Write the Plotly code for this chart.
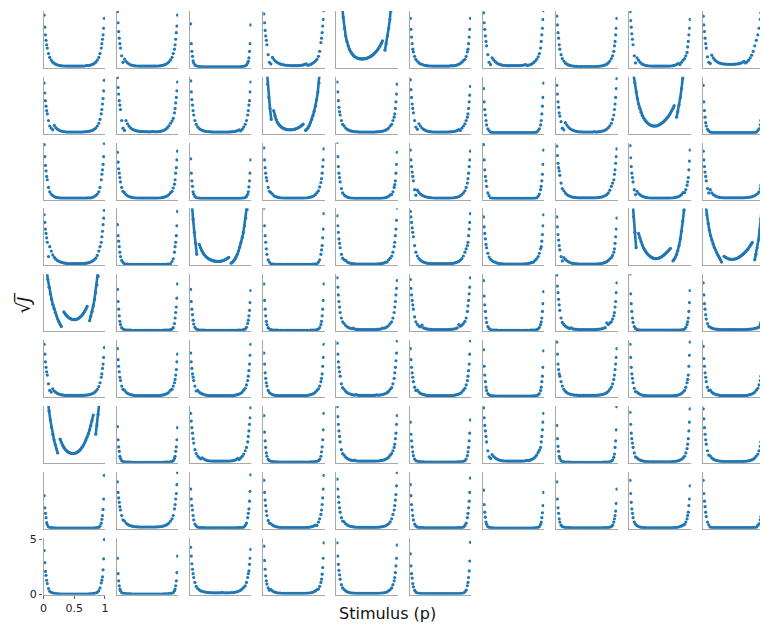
import plotly.graph_objects as go

# Stimulus grid shared by the ordinary panels
P = [0.01, 0.02, 0.03, 0.04, 0.05, 0.06, 0.08, 0.10,
     0.125, 0.15, 0.175, 0.20, 0.225, 0.25, 0.275, 0.30, 0.325, 0.35, 0.375,
     0.40, 0.425, 0.45, 0.475, 0.50, 0.525, 0.55, 0.575, 0.60, 0.625, 0.65,
     0.675, 0.70, 0.725, 0.75, 0.775, 0.80, 0.825, 0.85, 0.875,
     0.90, 0.92, 0.94, 0.95, 0.96, 0.97, 0.98, 0.99]

# Finer grid for the panels whose curve splits into separate branches
P_U = [0.01, 0.03, 0.05, 0.07, 0.09, 0.11, 0.13, 0.15, 0.17, 0.19,
       0.21, 0.23, 0.25, 0.27, 0.29, 0.31, 0.33, 0.35, 0.37, 0.39,
       0.41, 0.43, 0.45, 0.47, 0.49, 0.51, 0.53, 0.55, 0.57, 0.59,
       0.61, 0.63, 0.65, 0.67, 0.69, 0.71, 0.73, 0.75, 0.77, 0.79,
       0.81, 0.83, 0.85, 0.87, 0.89, 0.91, 0.93, 0.95, 0.97, 0.99]

# Flat middle stretches (p = 0.125 ... 0.875) shared by similar-looking panels
MID_G15 = [.70, .52, .40, .32, .27, .23, .20, .18, .17, .16,
           .15, .15, .15, .15, .15, .15, .15, .15, .15, .15, .15,
           .16, .17, .18, .20, .23, .27, .32, .40, .52, .70]
MID_G12 = [.62, .45, .34, .27, .22, .19, .16, .14, .13, .12,
           .12, .12, .12, .12, .12, .12, .12, .12, .12, .12, .12,
           .12, .13, .14, .16, .19, .22, .27, .34, .45, .62]
MID_G10 = [.45, .33, .25, .20, .16, .13, .12, .11, .10, .10,
           .10, .10, .10, .10, .10, .10, .10, .10, .10, .10, .10,
           .10, .10, .11, .12, .13, .16, .20, .25, .33, .45]
MID_S10 = [.14, .12, .11, .10, .10, .10, .10, .10, .10, .10,
           .10, .10, .10, .10, .10, .10, .10, .10, .10, .10, .10,
           .10, .10, .10, .10, .10, .10, .10, .11, .12, .14]
MID_S08 = [.14, .11, .10, .09, .09, .08, .08, .08, .08, .08,
           .08, .08, .08, .08, .08, .08, .08, .08, .08, .08, .08,
           .08, .08, .08, .08, .08, .09, .09, .10, .11, .14]
MID_S05 = [.10, .08, .07, .06, .06, .05, .05, .05, .05, .05,
           .05, .05, .05, .05, .05, .05, .05, .05, .05, .05, .05,
           .05, .05, .05, .05, .05, .06, .06, .07, .08, .10]

# ---- row 1 ----
SQJ_1_1 = [4.8, 3.7, 3.0, 2.5, 2.1, 1.8, 1.3, .95] + [.70, .52, .40, .32, .27, .23, .20, .18, .17, .16, .15, .15, .15, .15, .15, .15, .15, .15, .15, .15, .15, .16, .17, .22, .20, .23, .27, .32, .40, .52, .70] + [.95, 1.3, 1.8, 2.2, 2.6, 3.0, 3.6, 4.5]
SQJ_1_2 = [5.1, 4.1, 3.3, 2.7, 2.2, 1.8, 1.1, .5] + [.8, .6, .45, .35, .28, .23, .2, .18, .17, .16, .15, .15, .15, .15, .15, .15, .15, .15, .15, .15, .15, .16, .17, .18, .2, .23, .27, .33, .42, .55, .72] + [.95, 1.3, 1.7, 2.1, 2.6, 3.2, 3.8, 4.8]
SQJ_1_3 = [4.0, 2.2, 1.5, 1.05, .63, .44, .27, .19] + MID_S10 + [.19, .27, .44, .6, .9, 1.5, 2.2, 3.9]
SQJ_1_4 = [4.9, 4.1, 3.4, 2.9, 2.5, 2.1, 1.2, .5] + [.35, .95, .75, .6, .5, .42, .36, .32, .28, .26, .24, .22, .21, .2, .2, .2, .2, .2, .21, .22, .24, .27, .32, .36, .24, .27, .32, .4, .5, .62, .78] + [1.05, 1.5, 2.3, 2.7, 3.2, 3.8, 4.4, 5.2]
SQJ_1_5 = [12, 10, 8, 6.8, 5.8, 4.6, 3.6, 2.9, 2.4, 2.0, 1.7, 1.48, 1.3, 1.16, 1.05, .97, .91, .87, .84, .82, .81, .81, .82, .84, .87, .91, .96, 1.02, 1.09, 1.17, 1.27, 1.38, 1.5, 1.64, 1.8, 1.98, 2.2, 2.45, None, 1.6, 2.2, 2.9, 3.6, 4.4, 5.2, 6.2, 7.5, 9, 11, 13]
SQJ_1_6 = [4.5, 3.5, 2.8, 2.2, 1.7, 1.45, 1.05, .78] + [.6, .45, .36, .33, .26, .22, .2, .18, .17, .16, .15, .15, .15, .15, .15, .15, .15, .15, .15, .15, .15, .16, .2, .18, .2, .23, .27, .32, .40, .52, .66] + [.78, 1.05, 1.45, 1.7, 2.2, 2.8, 3.5, 4.5]
SQJ_1_7 = [5.0, 4.1, 3.5, 2.9, 2.4, 2.0, 1.2, .5] + [.3, .9, .72, .56, .45, .37, .31, .27, .24, .22, .21, .2, .2, .2, .2, .2, .2, .2, .2, .21, .22, .24, .27, .3, .22, .25, .3, .37, .47, .6, .78] + [1.0, 1.3, 1.8, 2.4, 3.0, 3.6, 4.4, 5.2]
SQJ_1_8 = [4.7, 3.9, 3.2, 2.7, 2.1, 1.7, 1.2, .85] + MID_G12 + [.85, 1.1, 1.5, 2.0, 2.4, 3.0, 3.6, 4.5]
SQJ_1_9 = [5.1, 4.3, 3.7, 3.1, 2.6, 2.1, 1.1, .45] + [.9, .7, .5, .38, .3, .25, .21, .19, .17, .16, .15, .15, .15, .15, .15, .15, .15, .15, .15, .15, .15, .16, .17, .19, .22, .26, .32, .4, .3, .5, .7] + [.85, 1.1, 1.4, 1.9, 2.4, 3.0, 3.6, 4.4]
SQJ_1_10 = [4.7, 3.9, 3.3, 2.7, 2.2, 1.8, 1.0, .5] + [.4, 1.15, .9, .72, .6, .5, .44, .4, .37, .35, .34, .33, .32, .32, .32, .33, .34, .35, .37, .4, .44, .5, .6, .45, .55, .7, .9, 1.15, 1.5, 2.0, 2.5] + [3.0, 3.6, 4.4, 5.0, 5.6, 6.2, 6.8, 7.5]

# ---- row 2 ----
SQJ_2_1 = [4.6, 3.7, 3.0, 2.5, 2.1, 1.8, 1.2, .7] + [.5, .35, .75, .55, .42, .33, .27, .22, .19, .17, .15, .15, .15, .15, .15, .15, .15, .15, .15, .15, .15, .16, .17, .18, .2, .23, .27, .32, .4, .52, .7] + [.95, 1.3, 1.8, 2.2, 2.7, 3.2, 3.9, 4.85]
SQJ_2_2 = [5.1, 4.2, 3.6, 3.0, 2.6, 2.2, 1.2, .5] + [.3, 1.2, .9, .68, .52, .42, .35, .3, .26, .23, .21, .2, .19, .18, .18, .17, .17, .17, .18, .2, .17, .17, .18, .2, .23, .27, .33, .42, .55, .72, .95] + [1.15, 1.4, 1.9, 2.3, 2.8, 3.3, 3.9, 4.7]
SQJ_2_3 = [4.8, 3.8, 3.1, 2.6, 2.1, 1.7, 1.2, .85] + [.62, .47, .37, .3, .25, .22, .2, .18, .17, .16, .15, .15, .15, .15, .15, .15, .15, .15, .15, .15, .15, .16, .17, .18, .2, .23, .28, .35, .25, .4, .6] + [.85, 1.2, 1.7, 2.1, 2.6, 3.0, 3.8, 4.7]
SQJ_2_4 = [9, 7.5, 6, 4.5, 3.3, 2.3, 1.3, None, 2.1, 1.6, 1.28, 1.03, .86, .73, .62, .54, .48, .43, .4, .37, .36, .35, .35, .36, .38, .4, .44, .48, .54, .6, .68, .77, .87, None, .3, .4, .55, .75, 1.0, 1.3, 1.65, 2.05, 2.5, 3.1, 3.8, 4.6, 5.5, 6.6, 8, 10]
SQJ_2_5 = [4.7, 3.8, 3.0, 2.4, 2.0, 1.7, 1.2, .85] + MID_G15 + [.85, 1.2, 1.5, 1.8, 2.3, 2.9, 3.6, 4.5]
SQJ_2_6 = [4.9, 4.0, 3.3, 2.7, 2.3, 1.9, 1.2, .6] + [.4, .9, .7, .52, .4, .32, .26, .22, .19, .17, .15, .15, .15, .15, .15, .15, .15, .15, .15, .15, .15, .16, .17, .18, .2, .24, .3, .38, .28, .5, .7] + [.9, 1.2, 1.5, 1.8, 2.3, 2.9, 3.5, 4.3]
SQJ_2_7 = [4.1, 2.9, 2.2, 1.7, 1.2, .8, .45, .28] + MID_S10 + [.28, .45, .8, 1.2, 1.8, 2.5, 3.3, 4.6]
SQJ_2_8 = [4.4, 3.6, 2.9, 2.4, 1.9, 1.6, 1.1, .5] + [.35, 1.0, .78, .6, .47, .38, .31, .26, .22, .19, .17, .16, .15, .15, .15, .15, .15, .15, .15, .15, .18, .15, .16, .18, .2, .23, .27, .33, .42, .55, .72] + [.95, 1.3, 1.7, 2.2, 2.7, 3.3, 4.1, 5.0]
SQJ_2_9 = [9, 7.5, 6.2, 5.3, 4.6, 3.8, 3.2, 2.7, 2.3, 1.95, 1.67, 1.45, 1.27, 1.12, 1.0, .9, .82, .76, .72, .7, .69, .7, .72, .76, .82, .89, .97, 1.06, 1.16, 1.27, 1.4, 1.54, 1.7, 1.88, 2.08, 2.3, 2.55, None, 1.5, 2.0, 2.6, 3.3, 4.1, 5.0, 6.0, 7, 8, 9, 10, 11]
SQJ_2_10 = [4.4, 2.9, 2.1, 1.5, 1.0, .7, .4, .25] + MID_S10 + [.3, .45, .8, 1.2, 1.8, 2.5, 3.3, 4.4]

# ---- row 3 ----
SQJ_3_1 = [5.0, 3.9, 3.1, 2.6, 2.1, 1.8, 1.1, .7] + [.5, .36, .27, .2, .17, .15, .13, .12, .12, .12, .12, .12, .12, .12, .12, .12, .12, .12, .12, .12, .12, .12, .12, .12, .15, .13, .15, .2, .27, .36, .5] + [.7, 1.1, 1.8, 2.3, 2.7, 3.2, 3.9, 5.1]
SQJ_3_2 = [4.3, 3.4, 2.8, 2.4, 2.0, 1.6, 1.1, .75] + MID_G12 + [.75, 1.05, 1.4, 1.8, 2.4, 2.9, 3.6, 4.4]
SQJ_3_3 = [3.7, 2.4, 1.7, 1.2, .7, .48, .28, .18] + MID_S10 + [.18, .28, .48, .7, 1.15, 1.7, 2.4, 3.6]
SQJ_3_4 = [4.7, 3.6, 2.9, 2.4, 2.0, 1.7, 1.1, .75] + [.62, .5, .34, .27, .22, .19, .16, .14, .13, .12, .12, .12, .12, .12, .12, .12, .12, .12, .12, .12, .12, .12, .13, .14, .16, .19, .22, .27, .34, .45, .62] + [.8, 1.15, 1.55, 1.9, 2.4, 3.0, 3.6, 4.6]
SQJ_3_5 = [5.2, 3.9, 3.0, 2.4, 2.0, 1.6, 1.0, .6] + [.42, .3, .22, .17, .14, .12, .11, .1, .1, .1, .1, .1, .1, .1, .1, .1, .1, .1, .1, .1, .1, .1, .1, .1, .11, .12, .14, .17, .22, .3, .42] + [.45, .7, 1.1, 1.35, 1.7, 2.4, 3.2, 4.3]
SQJ_3_6 = [4.5, 3.6, 3.0, 2.5, 2.1, 1.7, .9, .4] + [.85, .65, .5, .4, .32, .27, .23, .2, .18, .16, .14, .13, .12, .12, .12, .12, .12, .12, .12, .12, .12, .12, .13, .14, .16, .19, .22, .27, .34, .45, .6] + [.8, 1.1, 1.5, 1.9, 2.4, 3.0, 3.6, 4.4]
SQJ_3_7 = [5.0, 3.6, 2.7, 2.1, 1.7, 1.2, .6, .35] + MID_S10 + [.3, .5, .9, 1.2, 1.7, 2.3, 3.2, 4.5]
SQJ_3_8 = [4.85, 4.0, 3.3, 2.9, 2.6, 2.2, 1.5, 1.0] + [.8, .6, .45, .36, .3, .25, .21, .19, .17, .16, .15, .15, .15, .15, .15, .15, .15, .15, .15, .15, .15, .16, .17, .19, .21, .25, .3, .36, .45, .6, .85] + [1.2, 1.5, 1.8, 2.3, 2.7, 3.3, 3.9, 4.6]
SQJ_3_9 = [4.9, 3.8, 3.0, 2.4, 2.0, 1.6, .9, .45] + [.75, .55, .42, .33, .27, .22, .19, .16, .14, .13, .12, .12, .12, .12, .12, .12, .12, .12, .12, .12, .12, .12, .13, .14, .16, .19, .22, .27, .34, .45, .62] + [.62, .9, 1.3, 1.6, 2.0, 2.7, 3.5, 4.5]
SQJ_3_10 = [4.4, 3.6, 3.0, 2.5, 2.1, 1.7, 1.0, .6] + [.9, .6, .45, .35, .28, .23, .2, .18, .16, .15, .15, .15, .15, .15, .15, .15, .15, .15, .15, .15, .15, .15, .16, .17, .18, .2, .22, .25, .3, .36, .45] + [.55, .7, 1.0, 1.3, 1.7, 2.2, 3.0, 4.2]

# ---- row 4 ----
SQJ_4_1 = [4.6, 3.9, 3.3, 2.9, 2.5, 2.1, .8, 1.7] + [1.3, .95, .72, .56, .45, .37, .31, .27, .23, .2, .18, .17, .16, .16, .15, .15, .15, .15, .15, .16, .17, .17, .18, .2, .23, .27, .33, .4, .5, .65, .9] + [1.3, 1.7, 2.1, 2.6, 3.1, 3.7, 4.3, 5.0]
SQJ_4_2 = [3.7, 2.7, 2.2, 1.7, 1.2, .8, .45, .28] + MID_S10 + [.35, .6, 1.2, 1.7, 2.1, 2.7, 3.6, 4.9]
SQJ_4_3 = [7, 5.3, 4.2, 3.0, 2.0, 1.0, None, 1.9, 1.6, 1.35, 1.15, .98, .85, .74, .65, .58, .52, .47, .43, .4, .38, .37, .36, .36, .37, .39, .42, .46, .51, .57, .64, .72, None, .2, .28, .4, .55, .75, 1.0, 1.3, 1.65, 2.05, 2.5, 3.0, 3.6, 4.3, 5.1, 6.0, 7, 8]
SQJ_4_4 = [5.2, 3.6, 2.7, 2.1, 1.5, 1.0, .5, .3] + MID_S10 + [.3, .5, 1.0, 1.4, 1.8, 2.5, 3.3, 4.7]
SQJ_4_5 = [4.5, 3.6, 3.0, 2.4, 2.0, 1.6, 1.0, .65] + [.5, .45, .3, .24, .2, .17, .15, .13, .12, .12, .12, .12, .12, .12, .12, .12, .12, .12, .12, .12, .12, .12, .13, .14, .16, .19, .22, .3, .3, .5, .65] + [.85, 1.2, 1.7, 2.1, 2.7, 3.3, 4.1, 5.2]
SQJ_4_6 = [4.9, 4.4, 3.9, 3.4, 3.0, 2.6, 1.8, 1.2] + [.85, .62, .47, .37, .3, .25, .21, .19, .17, .16, .15, .15, .15, .15, .15, .15, .15, .15, .15, .15, .15, .16, .17, .19, .21, .25, .3, .37, .47, .62, .85] + [1.2, 1.5, 1.8, 2.1, 2.7, 3.3, 3.9, 4.7]
SQJ_4_7 = [4.4, 3.5, 2.9, 2.4, 1.9, 1.6, 1.1, .75] + [.55, .42, .32, .3, .22, .19, .16, .14, .13, .12, .12, .12, .12, .12, .12, .12, .12, .12, .12, .12, .12, .12, .13, .14, .16, .19, .22, .27, .3, .45, .6] + [.8, 1.1, 1.5, 1.7, 2.2, 2.8, 3.6, 4.6]
SQJ_4_8 = [4.4, 3.5, 2.8, 2.3, 1.8, 1.4, .8, .4] + [.7, .55, .42, .33, .26, .21, .18, .16, .14, .13, .12, .12, .12, .12, .12, .12, .12, .12, .12, .12, .12, .12, .13, .14, .16, .19, .22, .27, .34, .45, .6] + [.7, .9, 1.2, 1.5, 2.0, 2.6, 3.3, 4.3]
SQJ_4_9 = [9, 7.3, 5.8, 4.4, 3.0, 1.6, None, 2.9, 2.5, 2.15, 1.85, 1.6, 1.4, 1.22, 1.07, .95, .85, .77, .7, .65, .62, .61, .62, .64, .68, .73, .8, .88, .97, 1.07, 1.18, 1.3, 1.42, 1.55, None, .4, .55, .75, 1.0, 1.35, 1.8, 2.4, 3.1, 4.0, 5.0, 6.1, 7.2, 8.5, 10, 11]
SQJ_4_10 = [9, 7, 5.6, 4.6, 3.8, 3.2, 2.7, 2.3, 1.95, 1.65, 1.4, 1.15, .92, .7, .5, .3, None, .82, .74, .67, .62, .58, .56, .55, .55, .56, .58, .62, .67, .73, .8, .88, .97, 1.07, 1.18, 1.3, 1.43, 1.57, 1.73, 1.9, 2.1, None, .5, 1.0, 1.6, 2.3, 3.2, 4.2, 5.3, 6.5]

# ---- row 5 ----
SQJ_5_1 = [8, 6.6, 5.5, 4.7, 4.0, 3.4, 2.9, 2.45, 2.05, 1.7, 1.4, 1.1, .85, .62, .42, None, 1.75, 1.58, 1.44, 1.33, 1.23, 1.16, 1.1, 1.07, 1.05, 1.05, 1.07, 1.11, 1.17, 1.25, 1.35, 1.48, 1.63, 1.8, 2.0, 2.25, None, .95, 1.35, 1.8, 2.3, 2.9, 3.5, 4.2, 5.0, 5.9, 6.9, 8, 9, 10]
SQJ_5_2 = [3.8, 2.7, 2.0, 1.4, .9, .6, .32, .2] + MID_S08 + [.2, .32, .7, 1.2, 1.7, 2.2, 3.0, 4.3]
SQJ_5_3 = [3.8, 2.7, 2.0, 1.5, 1.0, .65, .35, .2] + MID_S08 + [.2, .35, .7, 1.0, 1.4, 1.9, 2.6, 3.7]
SQJ_5_4 = [4.3, 2.8, 2.0, 1.4, .9, .6, .32, .2] + MID_S08 + [.2, .32, .6, .9, 1.4, 2.0, 2.8, 4.3]
SQJ_5_5 = [4.85, 4.0, 3.3, 2.7, 2.2, 1.7, 1.2, .85] + [.7, .52, .4, .32, .27, .23, .28, .18, .17, .16, .15, .15, .15, .15, .15, .15, .15, .15, .15, .15, .15, .16, .17, .18, .2, .28, .27, .32, .40, .52, .70] + [.85, 1.2, 1.7, 2.2, 2.7, 3.3, 3.9, 4.6]
SQJ_5_6 = [4.7, 3.9, 3.3, 2.8, 2.4, 2.0, 1.3, .85] + [.62, .47, .38, .55, .3, .25, .21, .18, .17, .16, .15, .15, .15, .15, .15, .15, .15, .15, .15, .15, .15, .16, .17, .18, .2, .24, .3, .6, .45, .55, .7] + [.9, 1.2, 1.8, 2.3, 2.8, 3.4, 4.0, 4.85]
SQJ_5_7 = [4.6, 3.2, 2.4, 1.8, 1.2, .8, .42, .25] + MID_S08 + [.2, .35, .6, .85, 1.2, 1.8, 2.5, 3.6]
SQJ_5_8 = [5.1, 4.1, 3.5, 2.9, 2.4, 1.9, 1.2, .8] + [.62, .47, .37, .3, .25, .3, .2, .18, .17, .16, .15, .15, .15, .15, .15, .15, .15, .15, .15, .15, .15, .16, .17, .18, .2, .23, .27, .32, .75, .6, .75] + [.85, 1.1, 1.4, 1.7, 2.2, 2.7, 3.5, 4.4]
SQJ_5_9 = [5.2, 3.4, 2.5, 1.8, 1.2, .8, .42, .25] + MID_S10 + [.2, .35, .6, .85, 1.2, 1.8, 2.6, 3.7]
SQJ_5_10 = [4.4, 3.3, 2.5, 2.0, 1.5, 1.1, .7, .45] + [.35, .28, .23, .2, .18, .16, .15, .15, .15, .15, .15, .15, .15, .15, .15, .15, .15, .15, .15, .15, .15, .15, .15, .15, .16, .17, .18, .2, .22, .25, .28] + [.32, .4, .6, .8, 1.1, 1.6, 2.3, 3.4]

# ---- row 6 ----
SQJ_6_1 = [4.8, 3.9, 3.2, 2.7, 2.3, 2.0, 1.2, .6] + [.45, .75, .55, .42, .33, .27, .22, .19, .17, .16, .15, .15, .15, .15, .15, .15, .15, .15, .15, .15, .15, .16, .17, .18, .2, .23, .27, .32, .4, .52, .7] + [.95, 1.3, 1.8, 2.1, 2.6, 3.0, 3.6, 4.5]
SQJ_6_2 = [4.4, 3.4, 2.8, 2.3, 1.8, 1.5, 1.0, .7] + MID_G12 + [.7, 1.0, 1.3, 1.6, 2.0, 2.5, 3.2, 3.9]
SQJ_6_3 = [4.0, 3.2, 2.6, 2.1, 1.8, 1.5, 1.0, .55] + [.6, .45, .35, .28, .23, .19, .16, .14, .13, .12, .12, .12, .12, .12, .12, .12, .12, .12, .12, .12, .12, .12, .13, .14, .16, .19, .22, .27, .34, .45, .62] + [.8, 1.1, 1.5, 1.9, 2.4, 3.0, 3.8, 4.8]
SQJ_6_4 = [4.0, 3.0, 2.2, 1.7, 1.3, 1.0, .6, .4] + [.3, .22, .18, .15, .13, .12, .12, .12, .12, .12, .12, .12, .12, .12, .12, .12, .12, .12, .12, .12, .12, .12, .13, .14, .16, .19, .22, .27, .34, .45, .6] + [.75, 1.0, 1.4, 1.7, 2.1, 2.8, 3.6, 4.8]
SQJ_6_5 = [4.9, 3.9, 3.2, 2.7, 2.3, 1.9, 1.2, .85] + [.7, .52, .4, .32, .27, .23, .2, .18, .22, .16, .15, .15, .15, .15, .15, .15, .15, .15, .15, .15, .15, .2, .17, .18, .2, .23, .27, .32, .40, .52, .70] + [.85, 1.2, 1.7, 2.2, 2.7, 3.3, 4.0, 5.1]
SQJ_6_6 = [4.4, 3.4, 2.7, 2.2, 1.8, 1.4, .9, .6] + MID_G12 + [.8, 1.1, 1.5, 1.9, 2.4, 3.0, 3.9, 5.1]
SQJ_6_7 = [4.3, 2.8, 2.0, 1.4, .9, .6, .32, .2] + MID_S08 + [.2, .32, .6, .9, 1.4, 1.9, 2.7, 4.2]
SQJ_6_8 = [5.0, 3.9, 3.0, 2.5, 2.1, 1.9, 1.4, 1.0] + MID_G15 + [.9, 1.2, 1.6, 2.0, 2.5, 3.0, 3.6, 4.4]
SQJ_6_9 = [4.8, 3.6, 2.7, 2.1, 1.7, 1.3, .8, .5] + MID_G10 + [.6, .9, 1.3, 1.6, 2.0, 2.8, 3.8, 5.0]
SQJ_6_10 = [4.6, 3.5, 2.8, 2.2, 1.8, 1.4, .9, .6] + MID_G12 + [.8, 1.1, 1.5, 1.9, 2.4, 3.0, 3.8, 4.8]

# ---- row 7 ----
SQJ_7_1 = [9, 7.8, 6.6, 5.6, 4.7, 3.9, 3.2, 2.6, 2.1, 1.65, 1.25, .9, None, 2.15, 1.85, 1.6, 1.4, 1.25, 1.12, 1.02, .95, .9, .87, .85, .85, .87, .91, .97, 1.05, 1.15, 1.28, 1.44, 1.62, 1.83, 2.07, 2.35, 2.65, 3.0, 3.4, 3.85, 4.35, None, 2.6, 3.4, 4.4, 5.4, 6.5, 7.5, 8.5, 9.5]
SQJ_7_2 = [3.3, 2.1, 1.45, 1.05, .6, .4, .2, .12] + MID_S05 + [.12, .2, .4, .6, 1.05, 1.45, 2.1, 3.2]
SQJ_7_3 = [4.5, 3.8, 3.2, 2.7, 2.2, 1.8, 1.2, .85] + [.62, .47, .37, .45, .35, .28, .22, .19, .17, .16, .15, .15, .15, .15, .15, .15, .15, .15, .15, .15, .15, .16, .18, .2, .24, .3, .42, .3, .45, .6, .8] + [1.1, 1.4, 1.9, 2.4, 2.9, 3.5, 4.1, 5.0]
SQJ_7_4 = [4.3, 2.8, 2.0, 1.4, .9, .6, .32, .2] + MID_S08 + [.2, .32, .6, 1.0, 1.45, 2.1, 3.0, 4.5]
SQJ_7_5 = [5.1, 4.2, 3.5, 2.9, 2.4, 1.9, 1.2, .85] + [.7, .52, .4, .32, .27, .23, .2, .25, .17, .16, .15, .15, .15, .15, .15, .15, .15, .15, .15, .15, .15, .16, .17, .18, .23, .23, .27, .32, .40, .52, .70] + [.85, 1.1, 1.4, 1.7, 2.2, 2.7, 3.5, 4.3]
SQJ_7_6 = [3.7, 2.6, 2.0, 1.45, 1.0, .65, .35, .2] + MID_S08 + [.2, .35, .65, 1.0, 1.4, 2.0, 2.7, 3.9]
SQJ_7_7 = [5.0, 4.1, 3.4, 2.9, 2.4, 1.9, 1.1, .55] + [.4, .75, .58, .45, .36, .29, .24, .21, .18, .17, .16, .15, .15, .15, .15, .15, .15, .15, .15, .15, .15, .16, .17, .2, .24, .2, .27, .32, .4, .52, .7] + [.95, 1.15, 1.4, 1.9, 2.4, 3.0, 3.7, 4.5]
SQJ_7_8 = [3.4, 2.2, 1.5, 1.05, .6, .4, .2, .12] + MID_S05 + [.15, .25, .5, .8, 1.4, 2.0, 3.0, 5.1]
SQJ_7_9 = [4.6, 3.5, 2.7, 2.2, 1.8, 1.4, .9, .55] + MID_G10 + [.6, .9, 1.3, 1.7, 2.2, 2.9, 3.7, 4.9]
SQJ_7_10 = [4.9, 4.0, 3.2, 2.6, 2.1, 1.7, 1.1, .7] + MID_G12 + [.8, 1.1, 1.5, 1.9, 2.4, 3.0, 3.8, 4.8]

# ---- row 8 ----
SQJ_8_1 = [3.0, 1.9, 1.4, 1.0, .55, .35, .18, .1] + MID_S05 + [.12, .25, .5, .85, 1.2, 1.75, 2.7, 4.85]
SQJ_8_2 = [4.25, 3.3, 2.8, 2.4, 2.0, 1.7, 1.2, .8] + MID_G15 + [.9, 1.2, 1.8, 2.2, 2.7, 3.2, 4.0, 5.1]
SQJ_8_3 = [3.6, 2.7, 2.1, 1.7, 1.2, .8, .42, .25] + MID_S08 + [.3, .5, 1.0, 1.4, 1.8, 2.5, 3.4, 4.9]
SQJ_8_4 = [4.4, 3.3, 2.6, 2.1, 1.6, 1.2, .75, .5] + [.45, .33, .25, .2, .16, .13, .12, .11, .1, .1, .1, .1, .1, .1, .1, .1, .1, .1, .1, .1, .1, .1, .1, .11, .12, .13, .16, .2, .25, .33, .3] + [.6, .9, 1.3, 1.7, 2.2, 2.8, 3.6, 4.85]
SQJ_8_5 = [4.5, 3.6, 2.9, 2.4, 1.9, 1.5, 1.0, .7] + MID_G12 + [.9, 1.3, 1.7, 2.1, 2.6, 3.1, 3.9, 5.1]
SQJ_8_6 = [4.0, 3.0, 2.2, 1.7, 1.2, .8, .42, .25] + MID_S08 + [.3, .5, 1.0, 1.4, 1.9, 2.5, 3.3, 4.6]
SQJ_8_7 = [3.5, 2.2, 1.5, 1.05, .6, .4, .2, .12] + MID_S05 + [.12, .2, .4, .6, 1.0, 1.45, 2.1, 3.3]
SQJ_8_8 = [4.25, 2.7, 1.9, 1.4, .9, .6, .32, .2] + MID_S08 + [.2, .32, .6, .9, 1.2, 1.6, 2.3, 3.6]
SQJ_8_9 = [4.4, 3.2, 2.4, 1.8, 1.4, 1.0, .6, .4] + [.28, .2, .15, .12, .1, .09, .08, .08, .08, .08, .08, .08, .08, .08, .08, .08, .08, .08, .08, .08, .08, .08, .08, .08, .09, .1, .12, .15, .2, .25, .32] + [.4, .6, .9, 1.2, 1.5, 2.1, 2.7, 3.9]
SQJ_8_10 = [4.4, 3.2, 2.5, 2.0, 1.5, 1.1, .6, .35] + MID_S10 + [.3, .45, .8, 1.1, 1.5, 2.1, 2.9, 4.2]

# ---- row 9 ----
SQJ_9_1 = [4.0, 2.9, 2.1, 1.75, 1.3, 1.0, .55, .3] + [.2, .14, .1, .08, .07, .06, .05, .05, .05, .05, .05, .05, .05, .05, .05, .05, .05, .05, .05, .05, .05, .05, .05, .05, .05, .06, .07, .08, .1, .14, .2] + [.35, .6, 1.05, 1.3, 1.6, 2.25, 3.25, 5.0]
SQJ_9_2 = [3.3, 1.9, 1.25, .8, .5, .35, .18, .1] + MID_S05 + [.1, .18, .35, .5, .8, 1.25, 2.0, 3.5]
SQJ_9_3 = [4.3, 3.5, 2.8, 2.3, 1.9, 1.55, 1.1, .75] + [.55, .42, .33, .3, .25, .22, .2, .18, .17, .16, .15, .15, .15, .15, .15, .15, .2, .15, .15, .15, .15, .16, .17, .18, .2, .23, .27, .32, .40, .52, .66] + [.8, 1.1, 1.55, 1.9, 2.15, 2.75, 3.3, 4.1]
SQJ_9_4 = [4.4, 3.1, 2.3, 1.7, 1.25, .95, .6, .4] + MID_G10 + [.5, .75, 1.1, 1.4, 1.85, 2.45, 3.3, 4.7]
SQJ_9_5 = [4.7, 3.5, 2.75, 2.2, 1.8, 1.4, .9, .6] + MID_G10 + [.6, .9, 1.25, 1.55, 2.0, 2.6, 3.3, 4.5]
SQJ_9_6 = [3.7, 2.6, 1.9, 1.5, 1.0, .7, .38, .22] + MID_S08 + [.25, .4, .8, 1.1, 1.55, 2.15, 3.05, 4.75]

BRANCHED = {"1_5", "2_4", "2_9", "4_3", "4_9", "4_10", "5_1", "7_1"}

PANEL_KEYS = [f"{r}_{c}" for r in range(1, 9) for c in range(1, 11)] + [f"9_{c}" for c in range(1, 7)]
PANELS = [globals()["SQJ_" + k] for k in PANEL_KEYS]

bad = [k for k, v in zip(PANEL_KEYS, PANELS) if len(v) != (len(P_U) if k in BRANCHED else len(P))]
assert not bad, bad

# ---- geometry (pixels) ----
W, H = 764, 632
NCOLS = 10
LEFT0, COL_STEP, PW = 40, 74, 62
BOT0, ROW_STEP, PH = 65, 67, 58
Y_MAX = 5.18
BLUE = "#1f77b4"
SPINE = "#a8a8a8"

fig = go.Figure()
layout = {}
for i, (key, vals) in enumerate(zip(PANEL_KEYS, PANELS)):
    r, c = divmod(i, NCOLS)
    n = i + 1
    xname = "x" if n == 1 else f"x{n}"
    yname = "y" if n == 1 else f"y{n}"
    branched = key in BRANCHED
    fig.add_trace(go.Scatter(
        x=P_U if branched else P, y=vals,
        mode="lines+markers" if branched else "markers",
        marker=dict(size=3.2, color=BLUE, line=dict(width=0)),
        line=dict(color=BLUE, width=2.6),
        xaxis=xname, yaxis=yname, showlegend=False, hoverinfo="skip",
    ))
    left = LEFT0 + COL_STEP * c
    right = min(left + PW, W)
    bottom = BOT0 + ROW_STEP * r
    top = bottom - PH
    ticks = (i == 80)
    xa = dict(domain=[left / W, right / W], range=[0, (right - left) / PW],
              anchor=yname, showline=True, linecolor=SPINE, linewidth=1.4,
              showgrid=False, zeroline=False, fixedrange=True,
              showticklabels=ticks, ticks="outside" if ticks else "",
              tickvals=[0, 0.5, 1], ticktext=["0", "0.5", "1"],
              ticklen=3.5, tickwidth=1, tickcolor="#666",
              tickfont=dict(family="DejaVu Sans", size=11, color="#222"))
    ya = dict(domain=[(H - bottom) / H, (H - top) / H], range=[0, Y_MAX],
              anchor=xname, showline=True, linecolor=SPINE, linewidth=1.4,
              showgrid=False, zeroline=False, fixedrange=True,
              showticklabels=ticks, ticks="outside" if ticks else "",
              tickvals=[0, 5], ticktext=["0", "5"],
              ticklen=3.5, tickwidth=1, tickcolor="#666",
              tickfont=dict(family="DejaVu Sans", size=11, color="#222"))
    layout["xaxis" if n == 1 else f"xaxis{n}"] = xa
    layout["yaxis" if n == 1 else f"yaxis{n}"] = ya

fig.update_layout(
    **layout,
    width=W, height=H,
    margin=dict(l=0, r=0, t=0, b=0),
    paper_bgcolor="white", plot_bgcolor="white",
    annotations=[
        dict(text="Stimulus (p)", x=388 / W, y=(H - 620) / H, xref="paper", yref="paper",
             showarrow=False, xanchor="center", yanchor="middle",
             font=dict(family="DejaVu Sans", size=16, color="#111")),
        dict(text="\u221a<i>J\u0305</i>", x=20 / W, y=(H - 304) / H, xref="paper", yref="paper",
             showarrow=False, xanchor="center", yanchor="middle", textangle=-90,
             font=dict(family="DejaVu Sans", size=18, color="#111")),
    ],
)

fig.write_html("out.html")
